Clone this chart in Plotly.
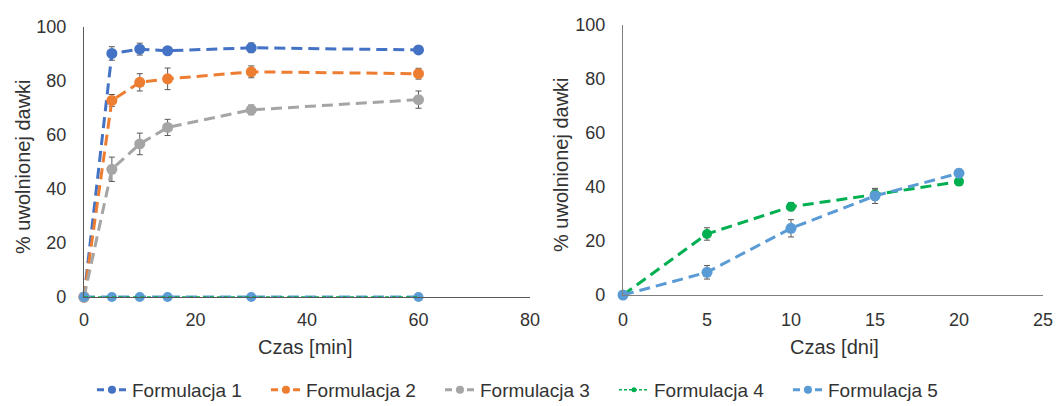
import plotly.graph_objects as go

# ---- data ----
series_names = ["Formulacja 1", "Formulacja 2", "Formulacja 3", "Formulacja 4", "Formulacja 5"]
colors = ["#4472C4", "#ED7D31", "#A5A5A5", "#00B050", "#5B9BD5"]

time_min = [0, 5, 10, 15, 30, 60]
f1_min = [0, 90.2, 91.8, 91.2, 92.3, 91.5]
f1_min_err = [0, 2.5, 2.2, 1.0, 1.8, 1.0]
f2_min = [0, 72.8, 79.5, 80.8, 83.4, 82.7]
f2_min_err = [0, 2.2, 3.2, 4.0, 2.2, 2.0]
f3_min = [0, 47.3, 56.7, 62.8, 69.3, 73.1]
f3_min_err = [0, 4.5, 4.0, 3.0, 1.8, 3.2]
f4_min = [0, 0, 0, 0, 0, 0]
f5_min = [0, 0, 0, 0, 0, 0]

time_days = [0, 5, 10, 15, 20]
f4_days = [0, 22.6, 32.7, 37.2, 42.0]
f4_days_err = [0, 2.3, 1.5, 2.0, 1.0]
f5_days = [0, 8.4, 24.7, 36.7, 45.1]
f5_days_err = [0, 2.5, 3.2, 2.8, 1.5]

x_ticks_min = [0, 20, 40, 60, 80]
x_ticks_days = [0, 5, 10, 15, 20, 25]
y_ticks = [0, 20, 40, 60, 80, 100]

FONT = "Liberation Sans, Arial, sans-serif"
TXT = "#333333"
DASH = "11px,6px"
ERR_COLOR = "#595959"

fig = go.Figure()

def add(x, y, err, color, xa, ya, size=11, width=3, dash=DASH, mode="lines+markers"):
    fig.add_trace(go.Scatter(
        x=x, y=y, mode=mode, xaxis=xa, yaxis=ya,
        line=dict(color=color, width=width, dash=dash),
        marker=dict(color=color, size=size),
        error_y=dict(type="data", array=err, visible=err is not None,
                     color=ERR_COLOR, thickness=1, width=3),
        showlegend=False, cliponaxis=False, hoverinfo="skip"))

# left panel
add(time_min, f1_min, f1_min_err, colors[0], "x", "y")
add(time_min, f2_min, f2_min_err, colors[1], "x", "y")
add(time_min, f3_min, f3_min_err, colors[2], "x", "y")
add(time_min, f5_min, None, colors[4], "x", "y", size=10)
add(time_min, f4_min, None, colors[3], "x", "y", size=6, width=1.5, dash="4px,3px", mode="lines")
# right panel
add(time_days, f4_days, f4_days_err, colors[3], "x2", "y2", size=10)
add(time_days, f5_days, f5_days_err, colors[4], "x2", "y2", size=11)

# legend entries
leg_styles = [(3, "7px,4px", 8), (3, "7px,4px", 8), (3, "7px,4px", 8),
              (1.5, "3px,2px", 5), (3, "7px,4px", 8)]
for name, c, (w, d, s) in zip(series_names, colors, leg_styles):
    fig.add_trace(go.Scatter(x=[None], y=[None], mode="lines+markers", name=name,
                             line=dict(color=c, width=w, dash=d),
                             marker=dict(color=c, size=s), showlegend=True))

W, H = 1057, 406
def px_x(p): return p / W
def px_y(p): return (H - p) / H

axis_common = dict(showgrid=False, zeroline=False, showline=True, ticks="",
                   tickfont=dict(family=FONT, size=18, color=TXT))

fig.update_layout(
    width=W, height=H, margin=dict(l=0, r=0, t=0, b=0, autoexpand=False),
    paper_bgcolor="white", plot_bgcolor="white",
    font=dict(family=FONT, color=TXT),
    xaxis=dict(domain=[px_x(84), px_x(530)], range=[0, 80], tickvals=x_ticks_min,
               linecolor="#595959", linewidth=1.3, anchor="y", ticklabelstandoff=6, **axis_common),
    yaxis=dict(domain=[px_y(297), px_y(27)], range=[0, 100], tickvals=y_ticks,
               linecolor="#595959", linewidth=1.3, anchor="x", ticklabelstandoff=13, **axis_common),
    xaxis2=dict(domain=[px_x(623), px_x(1043)], range=[0, 25], tickvals=x_ticks_days,
                linecolor="#7f7f7f", linewidth=1.3, anchor="y2", ticklabelstandoff=8, **axis_common),
    yaxis2=dict(domain=[px_y(295), px_y(25)], range=[0, 100], tickvals=y_ticks,
                linecolor="#7f7f7f", linewidth=1.3, anchor="x2", ticklabelstandoff=13, **axis_common),
    legend=dict(orientation="h", x=px_x(92), xanchor="left", y=px_y(390), yanchor="middle",
                font=dict(family=FONT, size=19, color=TXT), entrywidth=129,
                bgcolor="rgba(0,0,0,0)", itemclick=False),
    annotations=[
        dict(text="Czas [min]", x=px_x(305), y=px_y(347), xref="paper", yref="paper",
             showarrow=False, font=dict(family=FONT, size=20, color=TXT), xanchor="center", yanchor="middle"),
        dict(text="Czas [dni]", x=px_x(834), y=px_y(347), xref="paper", yref="paper",
             showarrow=False, font=dict(family=FONT, size=20, color=TXT), xanchor="center", yanchor="middle"),
        dict(text="% uwolnionej dawki", x=px_x(23), y=px_y(167), xref="paper", yref="paper",
             showarrow=False, textangle=-90, font=dict(family=FONT, size=20, color=TXT),
             xanchor="center", yanchor="middle"),
        dict(text="% uwolnionej dawki", x=px_x(561), y=px_y(165), xref="paper", yref="paper",
             showarrow=False, textangle=-90, font=dict(family=FONT, size=20, color=TXT),
             xanchor="center", yanchor="middle"),
    ],
)

fig.write_html("out.html")
